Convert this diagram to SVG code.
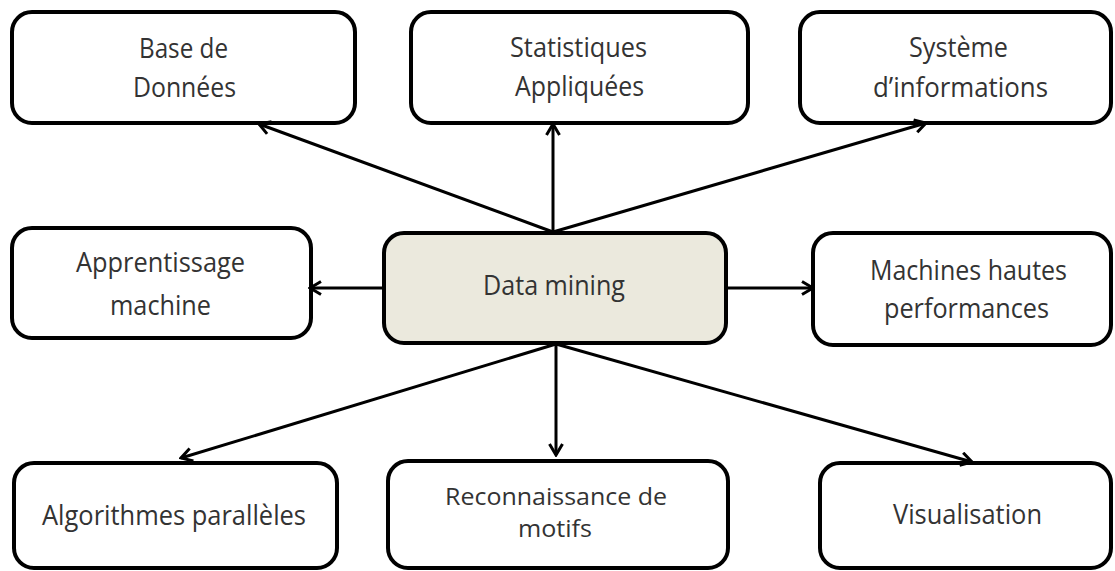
<svg xmlns="http://www.w3.org/2000/svg" width="1115" height="571" viewBox="0 0 1115 571">
  <style>
    .box { fill: #ffffff; stroke: #000000; stroke-width: 4; }
    .core { fill: #ebe9dd; stroke: #000000; stroke-width: 4; }
    .lbl { font-family: "Open Sans", "Noto Sans", "Liberation Sans", sans-serif; font-size: 27px; fill: #333333; }
    .sm { font-size: 23px; }
    .link { stroke: #000000; stroke-width: 3; fill: none; marker-end: url(#head); }
  </style>
  <defs>
    <marker id="head" viewBox="-13 -8 15 16" refX="0" refY="0" markerWidth="15" markerHeight="16" markerUnits="userSpaceOnUse" orient="auto">
      <path d="M-11,-6.5 L0,0 L-11,6.5" fill="none" stroke="#000000" stroke-width="3" stroke-linejoin="miter"/>
    </marker>
  </defs>
  <rect width="1115" height="571" fill="#ffffff"/>

  <g id="node-bdd">
    <rect class="box" x="12" y="12" width="343" height="111" rx="20"/>
    <text class="lbl" x="139" y="58" textLength="89" lengthAdjust="spacingAndGlyphs">Base de</text>
    <text class="lbl" x="133" y="97" textLength="103" lengthAdjust="spacingAndGlyphs">Données</text>
  </g>

  <g id="node-stats">
    <rect class="box" x="411" y="12" width="337" height="111" rx="20"/>
    <text class="lbl" x="510" y="57" textLength="137" lengthAdjust="spacingAndGlyphs">Statistiques</text>
    <text class="lbl" x="515" y="96" textLength="129" lengthAdjust="spacingAndGlyphs">Appliquées</text>
  </g>

  <g id="node-si">
    <rect class="box" x="800" y="12" width="311" height="111" rx="20"/>
    <text class="lbl" x="909" y="57" textLength="99" lengthAdjust="spacingAndGlyphs">Système</text>
    <text class="lbl" x="873" y="97" textLength="175" lengthAdjust="spacingAndGlyphs">d’informations</text>
  </g>

  <g id="node-ml">
    <rect class="box" x="12" y="228" width="299" height="110" rx="20"/>
    <text class="lbl" x="76" y="272" textLength="169" lengthAdjust="spacingAndGlyphs">Apprentissage</text>
    <text class="lbl" x="110" y="315" textLength="101" lengthAdjust="spacingAndGlyphs">machine</text>
  </g>

  <g id="node-dm">
    <rect class="core" x="384" y="233" width="342" height="110" rx="20"/>
    <text class="lbl" x="483" y="295" textLength="142" lengthAdjust="spacingAndGlyphs">Data mining</text>
  </g>

  <g id="node-hpc">
    <rect class="box" x="813" y="233" width="298" height="112" rx="20"/>
    <text class="lbl" x="870" y="280" textLength="197" lengthAdjust="spacingAndGlyphs">Machines hautes</text>
    <text class="lbl" x="884" y="318" textLength="165" lengthAdjust="spacingAndGlyphs">performances</text>
  </g>

  <g id="node-algo">
    <rect class="box" x="14" y="463" width="323" height="105" rx="20"/>
    <text class="lbl" x="42" y="525" textLength="264" lengthAdjust="spacingAndGlyphs">Algorithmes parallèles</text>
  </g>

  <g id="node-motifs">
    <rect class="box" x="388" y="461" width="340" height="107" rx="20"/>
    <text class="lbl sm" x="445" y="505" textLength="222" lengthAdjust="spacingAndGlyphs">Reconnaissance de</text>
    <text class="lbl sm" x="518" y="537" textLength="74" lengthAdjust="spacingAndGlyphs">motifs</text>
  </g>

  <g id="node-visu">
    <rect class="box" x="820" y="463" width="291" height="105" rx="20"/>
    <text class="lbl" x="893" y="524" textLength="149" lengthAdjust="spacingAndGlyphs">Visualisation</text>
  </g>

  <g id="connectors">
    <line class="link" x1="553" y1="232" x2="259" y2="124"/>
    <line class="link" x1="553" y1="232" x2="553" y2="124"/>
    <line class="link" x1="553" y1="232" x2="926" y2="123"/>
    <line class="link" x1="383" y1="288" x2="310" y2="288"/>
    <line class="link" x1="727" y1="288" x2="813" y2="288"/>
    <line class="link" x1="556" y1="344" x2="181" y2="458"/>
    <line class="link" x1="556" y1="344" x2="556" y2="455"/>
    <line class="link" x1="556" y1="344" x2="972" y2="462"/>
  </g>
</svg>
